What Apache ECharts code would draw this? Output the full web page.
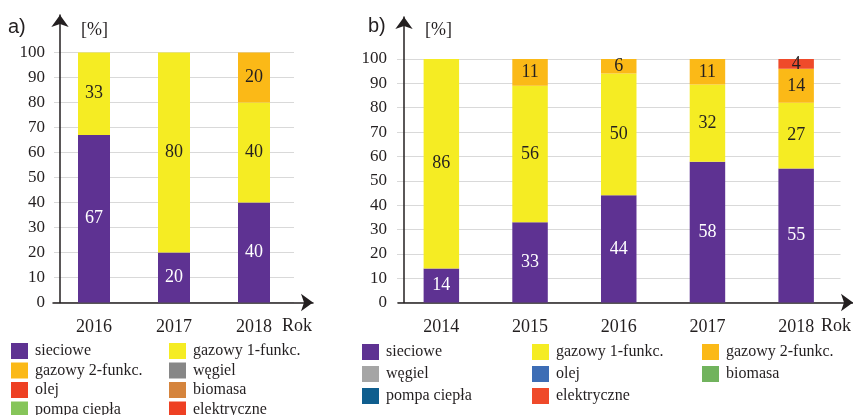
<!DOCTYPE html>
<html>
<head>
<meta charset="utf-8">
<title>a) / b)</title>
<script src="https://cdn.jsdelivr.net/npm/echarts@6/dist/echarts.min.js"></script>
<style>
    html, body { margin: 0; padding: 0; background: #fff; }
    #chart { width: 853px; height: 415px; }
</style>
</head>
<body>
<div id="chart"></div>
<script>
'use strict';

// wykres a)
var yearsA = ['2016', '2017', '2018'];
var sieciA = [67, 20, 40];
var gaz1A = [33, 80, 40];
var gaz2A = [0, 0, 20];
var wegielA = [0, 0, 0];
var olejA = [0, 0, 0];
var biomasaA = [0, 0, 0];
var pompaA = [0, 0, 0];
var elektrA = [0, 0, 0];

// wykres b)
var yearsB = ['2014', '2015', '2016', '2017', '2018'];
var sieciB = [14, 33, 44, 57.8, 55];
var gaz1B = [86, 56, 50, 31.7, 27];
var gaz2B = [0, 11, 6, 10.5, 14];
var wegielB = [0, 0, 0, 0, 0];
var olejB = [0, 0, 0, 0, 0];
var biomasaB = [0, 0, 0, 0, 0];
var pompaB = [0, 0, 0, 0, 0];
var elektrB = [0, 0, 0, 0, 4];

// podziałka osi Y
var yTicks = [0, 10, 20, 30, 40, 50, 60, 70, 80, 90, 100];

var SERIF = 'Liberation Serif';
var SANS = 'Liberation Sans';
var INK = '#231F20';

var colorsA = {
    'sieciowe': '#5E3292',
    'gazowy 1-funkc.': '#F5EC23',
    'gazowy 2-funkc.': '#FBB917',
    'węgiel': '#878787',
    'olej': '#EE4023',
    'biomasa': '#D5843D',
    'pompa ciepła': '#86C55A',
    'elektryczne': '#EE4023'
};
var colorsB = {
    'sieciowe': '#5E3292',
    'gazowy 1-funkc.': '#F5EC23',
    'gazowy 2-funkc.': '#FBB917',
    'węgiel': '#A5A5A5',
    'olej': '#3D6DB5',
    'biomasa': '#71B35D',
    'pompa ciepła': '#0F5E8E',
    'elektryczne': '#EF4A2A'
};

var chart = echarts.init(document.getElementById('chart'));

function barSeries(name, data, idx, colors) {
    return {
        name: name,
        type: 'bar',
        stack: 'st' + idx,
        xAxisIndex: idx,
        yAxisIndex: idx,
        barWidth: '40%',
        data: data,
        itemStyle: {color: colors[name]},
        label: {
            show: true,
            position: 'inside',
            fontFamily: SERIF,
            fontSize: 18,
            color: name === 'sieciowe' ? '#fff' : INK,
            formatter: function (p) {
                return p.value > 0 ? Math.round(p.value) : '';
            }
        },
        emphasis: {disabled: true},
        animation: false
    };
}

function buildSeries(idx, colors, d) {
    return [
        barSeries('sieciowe', d[0], idx, colors),
        barSeries('gazowy 1-funkc.', d[1], idx, colors),
        barSeries('gazowy 2-funkc.', d[2], idx, colors),
        barSeries('węgiel', d[3], idx, colors),
        barSeries('olej', d[4], idx, colors),
        barSeries('biomasa', d[5], idx, colors),
        barSeries('pompa ciepła', d[6], idx, colors),
        barSeries('elektryczne', d[7], idx, colors)
    ];
}

function legendCol(left, top, gap, names, colors) {
    return {
        orient: 'vertical',
        left: left,
        top: top,
        height: 120,
        padding: 0,
        itemGap: gap,
        itemWidth: 17,
        itemHeight: 16,
        icon: 'rect',
        selectedMode: false,
        textStyle: {fontFamily: SERIF, fontSize: 16, color: INK, padding: [0, 0, 0, 2]},
        data: names.map(function (n) {
            return {name: n, itemStyle: {color: colors[n]}};
        })
    };
}

function txt(text, left, top, font, size) {
    return {
        text: text,
        left: left,
        top: top,
        padding: 0,
        textStyle: {fontFamily: font, fontSize: size, fontWeight: 'normal', color: INK}
    };
}

// osie kategorii z siatką
function catAxis(idx, years) {
    return {
        type: 'category',
        gridIndex: idx,
        data: years,
        axisLine: {show: false},
        axisTick: {show: false},
        axisLabel: {fontFamily: SERIF, fontSize: 18, color: INK, margin: 16}
    };
}
function valAxis(idx, margin) {
    return {
        type: 'value',
        gridIndex: idx,
        min: yTicks[0],
        max: yTicks[yTicks.length - 1],
        interval: yTicks[1] - yTicks[0],
        axisLine: {show: false},
        axisTick: {show: false},
        axisLabel: {fontFamily: SERIF, fontSize: 17, color: INK, margin: margin},
        splitLine: {lineStyle: {color: '#D9D9D9', width: 1.2}}
    };
}
// same strzałki osi
function arrowAxis(idx, offset) {
    return {
        type: 'value',
        gridIndex: idx,
        min: 0,
        max: 1,
        offset: offset || 0,
        axisLine: {
            show: true,
            symbol: ['none', 'arrow'],
            symbolSize: [13, 12],
            lineStyle: {color: INK, width: 1.5}
        },
        axisTick: {show: false},
        axisLabel: {show: false},
        splitLine: {show: false}
    };
}

var dataA = [sieciA, gaz1A, gaz2A, wegielA, olejA, biomasaA, pompaA, elektrA];
var dataB = [sieciB, gaz1B, gaz2B, wegielB, olejB, biomasaB, pompaB, elektrB];

chart.setOption({
    animation: false,
    title: [
        txt('a)', 8, 17, SANS, 20),
        txt('[%]', 81, 21.5, SERIF, 18),
        txt('Rok', 282, 317.5, SERIF, 18),
        txt('b)', 368, 16, SANS, 20),
        txt('[%]', 425, 21.5, SERIF, 18),
        txt('Rok', 821, 317.5, SERIF, 18)
    ],
    legend: [
        legendCol(11, 343, 3.5, ['sieciowe', 'gazowy 2-funkc.', 'olej', 'pompa ciepła'], colorsA),
        legendCol(169, 343, 3.5, ['gazowy 1-funkc.', 'węgiel', 'biomasa', 'elektryczne'], colorsA),
        legendCol(362, 344, 6, ['sieciowe', 'węgiel', 'pompa ciepła'], colorsB),
        legendCol(532, 344, 6, ['gazowy 1-funkc.', 'olej', 'elektryczne'], colorsB),
        legendCol(702, 344, 6, ['gazowy 2-funkc.', 'biomasa'], colorsB)
    ],
    grid: [
        {left: 54, top: 52.5, width: 240, height: 250},
        {left: 53, top: 15, width: 260, height: 287.5},
        {left: 397, top: 59, width: 443.5, height: 243.5},
        {left: 398, top: 17, width: 455, height: 285.5}
    ],
    xAxis: [
        catAxis(0, yearsA),
        arrowAxis(1),
        catAxis(2, yearsB),
        arrowAxis(3)
    ],
    yAxis: [
        valAxis(0, 9),
        arrowAxis(1, -7),
        valAxis(2, 10),
        arrowAxis(3, -6)
    ],
    series: buildSeries(0, colorsA, dataA).concat(buildSeries(2, colorsB, dataB))
});
</script>
</body>
</html>
